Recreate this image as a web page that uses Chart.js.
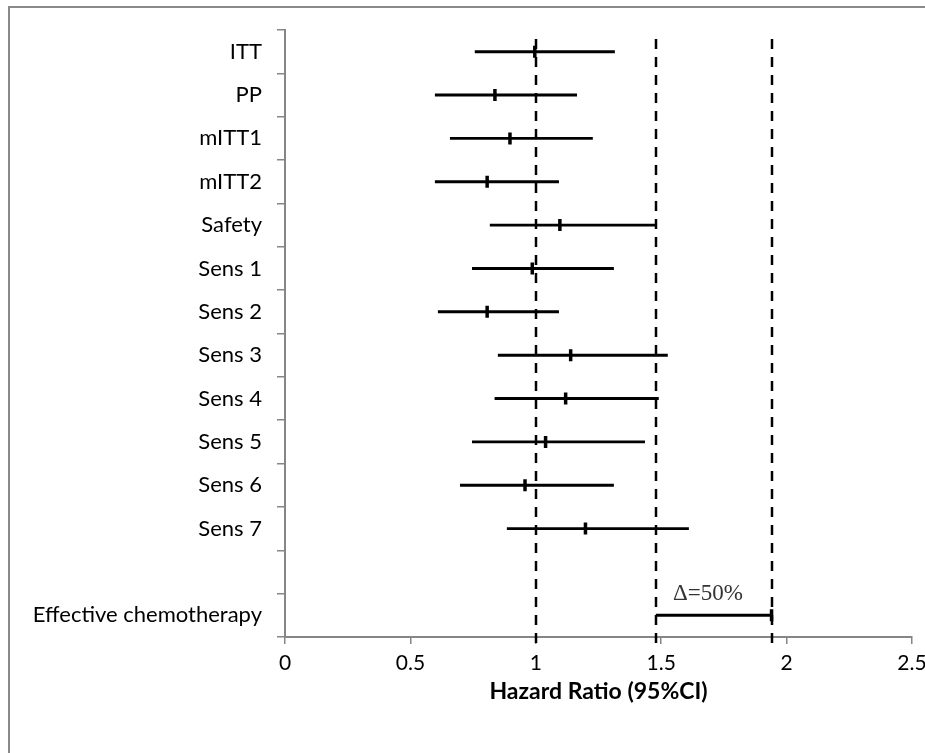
<!DOCTYPE html>
<html>
<head>
<meta charset="utf-8">
<script src="https://cdn.jsdelivr.net/npm/chart.js@4.4.0/dist/chart.umd.min.js"></script>
<style>
  html, body { margin: 0; padding: 0; background: #ffffff; overflow: hidden; }
  #wrap { width: 925px; height: 753px; position: relative; overflow: hidden; }
  #c { position: absolute; left: 0; top: 0; }
</style>
</head>
<body>
<div id="wrap"><canvas id="c" width="945" height="753"></canvas></div>
<script>
// ---- data ----
const categories = ["ITT", "PP", "mITT1", "mITT2", "Safety", "Sens 1", "Sens 2", "Sens 3",
                    "Sens 4", "Sens 5", "Sens 6", "Sens 7", "", "Effective chemotherapy"];
const hazardRatio = [0.996, 0.837, 0.897, 0.806, 1.096, 0.986, 0.806, 1.139, 1.119, 1.039, 0.957, 1.198, null, 1.94];
const ciLower     = [0.758, 0.599, 0.659, 0.599, 0.818, 0.747, 0.611, 0.850, 0.837, 0.747, 0.699, 0.886, null, 1.48];
const ciUpper     = [1.314, 1.163, 1.226, 1.091, 1.482, 1.310, 1.091, 1.525, 1.489, 1.434, 1.310, 1.609, null, 1.94];
const referenceLines = [1.0, 1.48, 1.94];
const xTicks = [0, 0.5, 1, 1.5, 2, 2.5];
const marginLabel = "\u0394=50%";
const axisTitle = "Hazard Ratio (95%CI)";

// ---- build datasets ----
const ciData = categories.map((c, i) => (ciLower[i] == null ? null : [ciLower[i], ciUpper[i]]));
const pointData = categories.map((c, i) => (hazardRatio[i] == null ? null : { x: hazardRatio[i], y: c }))
  .filter(p => p !== null);

const FONT = "Lato, 'Noto Sans', sans-serif";
const AXIS_GRAY = "#868686";

const decorPlugin = {
  id: "decor",
  beforeDraw(chart) {
    const ctx = chart.ctx;
    ctx.save();
    ctx.strokeStyle = "#8a8a8a";
    ctx.lineWidth = 2;
    ctx.strokeRect(9, 7, 1200, 1200);
    ctx.restore();
  },
  afterDatasetsDraw(chart) {
    const ctx = chart.ctx;
    const xs = chart.scales.x, ys = chart.scales.y;
    const area = chart.chartArea;
    ctx.save();
    ctx.strokeStyle = "#000";
    ctx.lineWidth = 2.5;
    ctx.setLineDash([10, 8]);
    referenceLines.forEach(v => {
      const px = Math.round(xs.getPixelForValue(v));
      ctx.beginPath();
      ctx.moveTo(px, area.top + 9);
      ctx.lineTo(px, area.bottom + 9);
      ctx.stroke();
    });
    ctx.setLineDash([]);
    // margin label between the last two reference lines
    const mx = (xs.getPixelForValue(referenceLines[1]) + xs.getPixelForValue(referenceLines[2])) / 2;
    const my = ys.getPixelForValue(categories.length - 1.5);
    ctx.fillStyle = "#333";
    ctx.font = "23px 'Liberation Serif', 'DejaVu Serif', serif";
    ctx.textAlign = "center";
    ctx.textBaseline = "middle";
    ctx.fillText(marginLabel, mx - 6, my);
    ctx.restore();
  }
};

new Chart(document.getElementById("c"), {
  type: "bar",
  data: {
    labels: categories,
    datasets: [
      {
        type: "bar",
        data: ciData,
        backgroundColor: "#000",
        borderWidth: 0,
        barThickness: 2.3,
        grouped: false,
        order: 2
      },
      {
        type: "line",
        data: pointData,
        showLine: false,
        pointStyle: "line",
        rotation: 90,
        pointRadius: 6,
        pointBorderWidth: 3.5,
        borderColor: "#000",
        backgroundColor: "#000",
        order: 1
      }
    ]
  },
  options: {
    indexAxis: "y",
    responsive: false,
    animation: false,
    events: [],
    layout: { padding: { top: 30, left: 0, right: 33, bottom: 0 } },
    plugins: { legend: { display: false }, tooltip: { enabled: false } },
    scales: {
      x: {
        type: "linear",
        min: 0,
        max: 2.5,
        afterBuildTicks: s => { s.ticks = xTicks.map(v => ({ value: v })); },
        afterFit: s => { s.height = 116; },
        ticks: {
          font: { family: FONT, size: 21 },
          color: "#000",
          padding: 7,
          maxRotation: 0,
          callback: v => String(v)
        },
        grid: { drawOnChartArea: false, drawTicks: true, tickLength: 7, color: AXIS_GRAY, lineWidth: 1.5 },
        border: { color: AXIS_GRAY, width: 2 },
        title: {
          display: true,
          text: axisTitle,
          font: { family: FONT, size: 23, weight: "bold" },
          color: "#000",
          padding: { top: 0, bottom: 48 }
        }
      },
      y: {
        type: "category",
        offset: true,
        afterFit: s => { s.width = 285; },
        ticks: {
          font: { family: FONT, size: 22 },
          color: "#000",
          padding: 15,
          autoSkip: false
        },
        grid: { offset: true, drawOnChartArea: false, drawTicks: true, tickLength: 8, color: AXIS_GRAY, lineWidth: 1.5 },
        border: { color: AXIS_GRAY, width: 2 }
      }
    }
  },
  plugins: [decorPlugin]
});
</script>
</body>
</html>
